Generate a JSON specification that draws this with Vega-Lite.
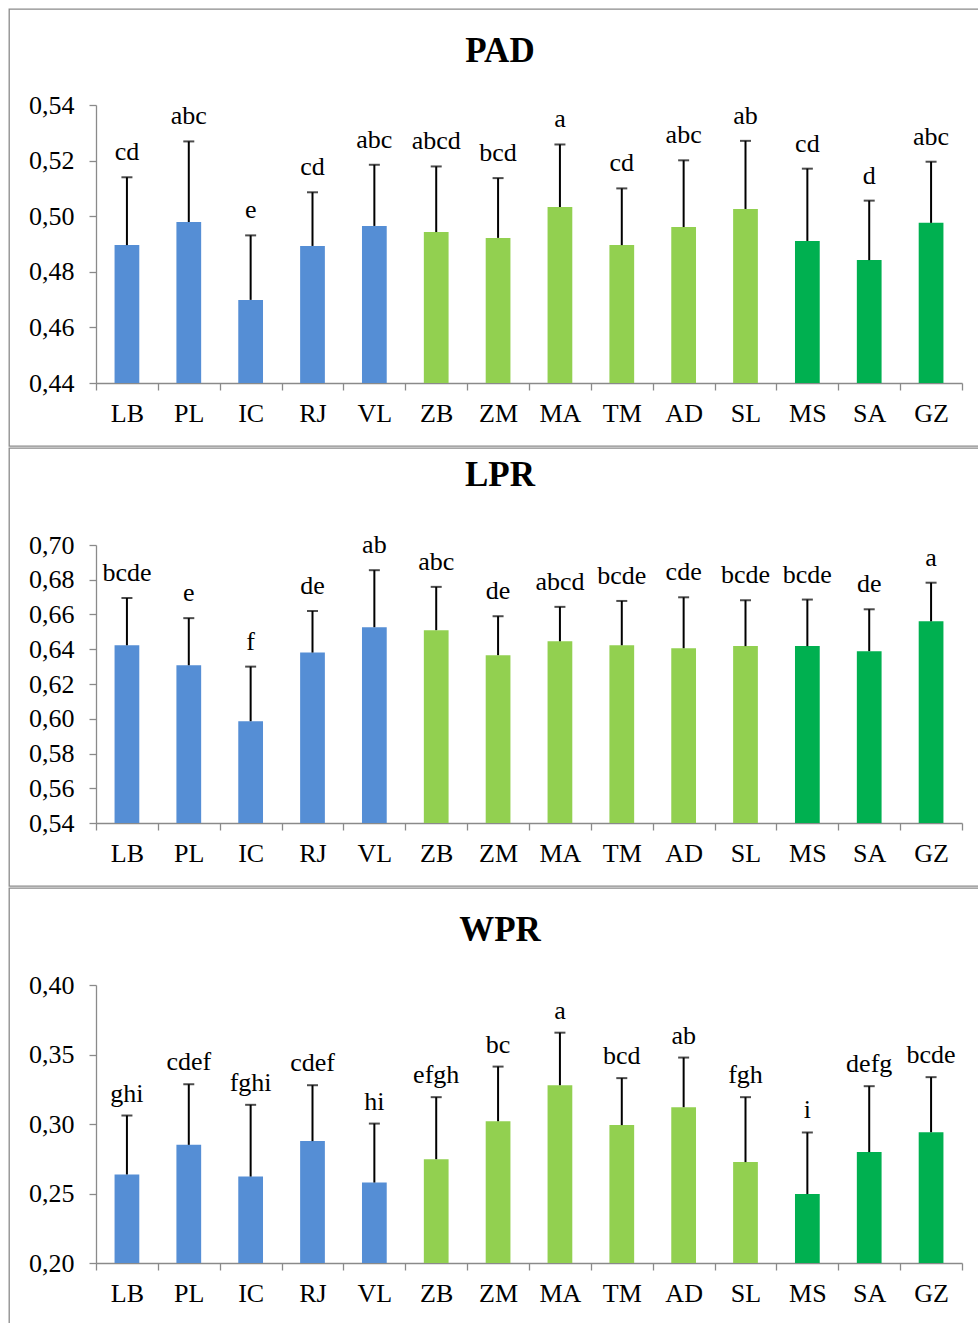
{
  "$schema": "https://vega.github.io/schema/vega-lite/v6.json",
  "padding": {"left": 8, "top": 8, "right": 0, "bottom": 0},
  "background": "white",
  "spacing": 0,
  "datasets": {
    "d": [
      {"trait": "PAD", "site": "LB", "grp": "G1", "mean": 0.4896, "upper": 0.5140, "letter": "cd"},
      {"trait": "PAD", "site": "PL", "grp": "G1", "mean": 0.4979, "upper": 0.5269, "letter": "abc"},
      {"trait": "PAD", "site": "IC", "grp": "G1", "mean": 0.4699, "upper": 0.4931, "letter": "e"},
      {"trait": "PAD", "site": "RJ", "grp": "G1", "mean": 0.4893, "upper": 0.5086, "letter": "cd"},
      {"trait": "PAD", "site": "VL", "grp": "G1", "mean": 0.4965, "upper": 0.5185, "letter": "abc"},
      {"trait": "PAD", "site": "ZB", "grp": "G2", "mean": 0.4943, "upper": 0.5179, "letter": "abcd"},
      {"trait": "PAD", "site": "ZM", "grp": "G2", "mean": 0.4922, "upper": 0.5137, "letter": "bcd"},
      {"trait": "PAD", "site": "MA", "grp": "G2", "mean": 0.5033, "upper": 0.5258, "letter": "a"},
      {"trait": "PAD", "site": "TM", "grp": "G2", "mean": 0.4896, "upper": 0.5100, "letter": "cd"},
      {"trait": "PAD", "site": "AD", "grp": "G2", "mean": 0.4961, "upper": 0.5201, "letter": "abc"},
      {"trait": "PAD", "site": "SL", "grp": "G2", "mean": 0.5026, "upper": 0.5271, "letter": "ab"},
      {"trait": "PAD", "site": "MS", "grp": "G3", "mean": 0.4911, "upper": 0.5171, "letter": "cd"},
      {"trait": "PAD", "site": "SA", "grp": "G3", "mean": 0.4842, "upper": 0.5056, "letter": "d"},
      {"trait": "PAD", "site": "GZ", "grp": "G3", "mean": 0.4976, "upper": 0.5196, "letter": "abc"},
      {"trait": "LPR", "site": "LB", "grp": "G1", "mean": 0.6423, "upper": 0.6695, "letter": "bcde"},
      {"trait": "LPR", "site": "PL", "grp": "G1", "mean": 0.6308, "upper": 0.6579, "letter": "e"},
      {"trait": "LPR", "site": "IC", "grp": "G1", "mean": 0.5986, "upper": 0.6300, "letter": "f"},
      {"trait": "LPR", "site": "RJ", "grp": "G1", "mean": 0.6381, "upper": 0.6620, "letter": "de"},
      {"trait": "LPR", "site": "VL", "grp": "G1", "mean": 0.6527, "upper": 0.6855, "letter": "ab"},
      {"trait": "LPR", "site": "ZB", "grp": "G2", "mean": 0.6510, "upper": 0.6759, "letter": "abc"},
      {"trait": "LPR", "site": "ZM", "grp": "G2", "mean": 0.6366, "upper": 0.6590, "letter": "de"},
      {"trait": "LPR", "site": "MA", "grp": "G2", "mean": 0.6446, "upper": 0.6644, "letter": "abcd"},
      {"trait": "LPR", "site": "TM", "grp": "G2", "mean": 0.6423, "upper": 0.6678, "letter": "bcde"},
      {"trait": "LPR", "site": "AD", "grp": "G2", "mean": 0.6406, "upper": 0.6699, "letter": "cde"},
      {"trait": "LPR", "site": "SL", "grp": "G2", "mean": 0.6418, "upper": 0.6682, "letter": "bcde"},
      {"trait": "LPR", "site": "MS", "grp": "G3", "mean": 0.6418, "upper": 0.6686, "letter": "bcde"},
      {"trait": "LPR", "site": "SA", "grp": "G3", "mean": 0.6389, "upper": 0.6630, "letter": "de"},
      {"trait": "LPR", "site": "GZ", "grp": "G3", "mean": 0.6561, "upper": 0.6783, "letter": "a"},
      {"trait": "WPR", "site": "LB", "grp": "G1", "mean": 0.2637, "upper": 0.3061, "letter": "ghi"},
      {"trait": "WPR", "site": "PL", "grp": "G1", "mean": 0.2850, "upper": 0.3286, "letter": "cdef"},
      {"trait": "WPR", "site": "IC", "grp": "G1", "mean": 0.2622, "upper": 0.3138, "letter": "fghi"},
      {"trait": "WPR", "site": "RJ", "grp": "G1", "mean": 0.2877, "upper": 0.3279, "letter": "cdef"},
      {"trait": "WPR", "site": "VL", "grp": "G1", "mean": 0.2579, "upper": 0.3003, "letter": "hi"},
      {"trait": "WPR", "site": "ZB", "grp": "G2", "mean": 0.2747, "upper": 0.3193, "letter": "efgh"},
      {"trait": "WPR", "site": "ZM", "grp": "G2", "mean": 0.3020, "upper": 0.3413, "letter": "bc"},
      {"trait": "WPR", "site": "MA", "grp": "G2", "mean": 0.3279, "upper": 0.3657, "letter": "a"},
      {"trait": "WPR", "site": "TM", "grp": "G2", "mean": 0.2992, "upper": 0.3330, "letter": "bcd"},
      {"trait": "WPR", "site": "AD", "grp": "G2", "mean": 0.3121, "upper": 0.3478, "letter": "ab"},
      {"trait": "WPR", "site": "SL", "grp": "G2", "mean": 0.2726, "upper": 0.3193, "letter": "fgh"},
      {"trait": "WPR", "site": "MS", "grp": "G3", "mean": 0.2496, "upper": 0.2939, "letter": "i"},
      {"trait": "WPR", "site": "SA", "grp": "G3", "mean": 0.2798, "upper": 0.3272, "letter": "defg"},
      {"trait": "WPR", "site": "GZ", "grp": "G3", "mean": 0.2941, "upper": 0.3337, "letter": "bcde"}
    ]
  },
  "vconcat": [
    {
      "width": 972, "height": 437,
      "title": {"text": "PAD", "offset": -60, "dx": 5},
      "data": {"name": "d"},
      "transform": [{"filter": "datum.trait === 'PAD'"}],
      "encoding": {
        "x": {"field": "site", "type": "nominal", "sort": null,
          "scale": {"domain": ["LB","PL","IC","RJ","VL","ZB","ZM","MA","TM","AD","SL","MS","SA","GZ"], "range": [87, 953], "paddingInner": 0, "paddingOuter": 0},
          "axis": {"title": null, "labelAngle": 0, "tickBand": "extent", "offset": -63, "labelPadding": 10}}
      },
      "layer": [
        {"mark": {"type": "bar", "width": {"band": 0.4}},
         "encoding": {
           "y": {"field": "mean", "type": "quantitative",
             "scale": {"domain": [0.44, 0.54], "range": [374, 96], "zero": false, "nice": false},
             "axis": {"title": null, "offset": -87, "values": [0.44,0.46,0.48,0.50,0.52,0.54], "labelPadding": 15, "labelFont": "Liberation Serif", "labelExpr": "replace(format(datum.value, '.2f'), '.', ',')"}},
           "y2": {"datum": 0.44},
           "color": {"field": "grp", "type": "nominal", "scale": {"domain": ["G1","G2","G3"], "range": ["#558ED5","#92D050","#00B050"]}, "legend": null}
         }},
        {"mark": {"type": "rule", "color": "black", "strokeWidth": 2},
         "encoding": {"y": {"field": "mean", "type": "quantitative"}, "y2": {"field": "upper"}}},
        {"mark": {"type": "tick", "color": "black", "size": 11, "thickness": 2},
         "encoding": {"y": {"field": "upper", "type": "quantitative"}}},
        {"mark": {"type": "text", "dy": -17, "baseline": "alphabetic", "font": "Liberation Serif", "fontSize": 26, "color": "black"},
         "encoding": {"y": {"field": "upper", "type": "quantitative"}, "text": {"field": "letter"}}}
      ]
    },
    {
      "width": 972, "height": 438,
      "title": {"text": "LPR", "offset": -45, "dx": 5},
      "data": {"name": "d"},
      "transform": [{"filter": "datum.trait === 'LPR'"}],
      "encoding": {
        "x": {"field": "site", "type": "nominal", "sort": null,
          "scale": {"domain": ["LB","PL","IC","RJ","VL","ZB","ZM","MA","TM","AD","SL","MS","SA","GZ"], "range": [87, 953], "paddingInner": 0, "paddingOuter": 0},
          "axis": {"title": null, "labelAngle": 0, "tickBand": "extent", "offset": -63, "labelPadding": 10}}
      },
      "layer": [
        {"mark": {"type": "bar", "width": {"band": 0.4}},
         "encoding": {
           "y": {"field": "mean", "type": "quantitative",
             "scale": {"domain": [0.54, 0.70], "range": [375, 97], "zero": false, "nice": false},
             "axis": {"title": null, "offset": -87, "values": [0.54,0.56,0.58,0.60,0.62,0.64,0.66,0.68,0.70], "labelPadding": 15, "labelFont": "Liberation Serif", "labelExpr": "replace(format(datum.value, '.2f'), '.', ',')"}},
           "y2": {"datum": 0.54},
           "color": {"field": "grp", "type": "nominal", "scale": {"domain": ["G1","G2","G3"], "range": ["#558ED5","#92D050","#00B050"]}, "legend": null}
         }},
        {"mark": {"type": "rule", "color": "black", "strokeWidth": 2},
         "encoding": {"y": {"field": "mean", "type": "quantitative"}, "y2": {"field": "upper"}}},
        {"mark": {"type": "tick", "color": "black", "size": 11, "thickness": 2},
         "encoding": {"y": {"field": "upper", "type": "quantitative"}}},
        {"mark": {"type": "text", "dy": -17, "baseline": "alphabetic", "font": "Liberation Serif", "fontSize": 26, "color": "black"},
         "encoding": {"y": {"field": "upper", "type": "quantitative"}, "text": {"field": "letter"}}}
      ]
    },
    {
      "width": 972, "height": 438,
      "title": {"text": "WPR", "offset": -60, "dx": 5},
      "data": {"name": "d"},
      "transform": [{"filter": "datum.trait === 'WPR'"}],
      "encoding": {
        "x": {"field": "site", "type": "nominal", "sort": null,
          "scale": {"domain": ["LB","PL","IC","RJ","VL","ZB","ZM","MA","TM","AD","SL","MS","SA","GZ"], "range": [87, 953], "paddingInner": 0, "paddingOuter": 0},
          "axis": {"title": null, "labelAngle": 0, "tickBand": "extent", "offset": -63, "labelPadding": 10}}
      },
      "layer": [
        {"mark": {"type": "bar", "width": {"band": 0.4}},
         "encoding": {
           "y": {"field": "mean", "type": "quantitative",
             "scale": {"domain": [0.20, 0.40], "range": [375, 97], "zero": false, "nice": false},
             "axis": {"title": null, "offset": -87, "values": [0.20,0.25,0.30,0.35,0.40], "labelPadding": 15, "labelFont": "Liberation Serif", "labelExpr": "replace(format(datum.value, '.2f'), '.', ',')"}},
           "y2": {"datum": 0.20},
           "color": {"field": "grp", "type": "nominal", "scale": {"domain": ["G1","G2","G3"], "range": ["#558ED5","#92D050","#00B050"]}, "legend": null}
         }},
        {"mark": {"type": "rule", "color": "black", "strokeWidth": 2},
         "encoding": {"y": {"field": "mean", "type": "quantitative"}, "y2": {"field": "upper"}}},
        {"mark": {"type": "tick", "color": "black", "size": 11, "thickness": 2},
         "encoding": {"y": {"field": "upper", "type": "quantitative"}}},
        {"mark": {"type": "text", "dy": -14, "baseline": "alphabetic", "font": "Liberation Serif", "fontSize": 26, "color": "black"},
         "encoding": {"y": {"field": "upper", "type": "quantitative"}, "text": {"field": "letter"}}}
      ]
    }
  ],
  "config": {
    "view": {"stroke": "#8a8a8a", "strokeWidth": 1.3},
    "axis": {"grid": false, "domainColor": "#8a8a8a", "tickColor": "#8a8a8a", "domainWidth": 1.3, "tickWidth": 1.3, "tickSize": 7, "labelFont": "Liberation Serif", "labelFontSize": 26, "labelColor": "#000000"},
    "title": {"font": "Liberation Serif", "fontSize": 35, "fontWeight": "bold", "color": "#000000", "anchor": "middle", "frame": "group", "baseline": "alphabetic"}
  }
}
